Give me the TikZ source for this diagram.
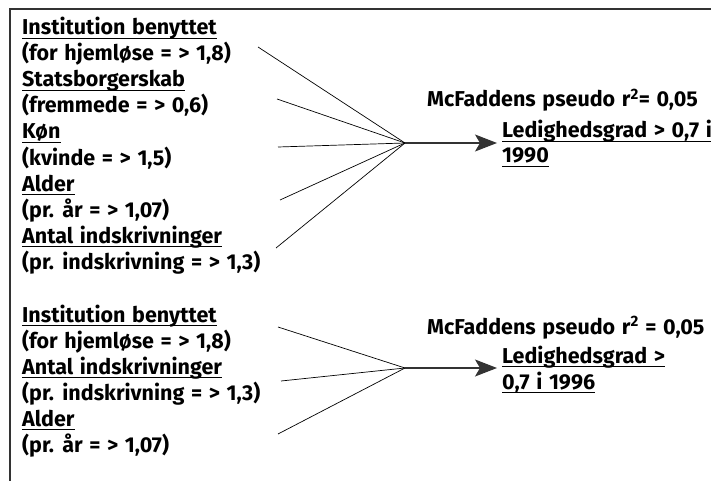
\documentclass[tikz,border=0pt]{standalone}
\usepackage{fontspec}
\setmainfont{Fira Sans}[WordSpace={1.3}]
\usetikzlibrary{arrows.meta}
\begin{document}
\begin{tikzpicture}[x=1pt,y=-1pt,
  lab/.style={anchor=base west, inner sep=0pt, font=\fontsize{21.5}{25}\selectfont\bfseries},
  ulline/.style={line width=1.3pt},
  fan/.style={line width=0.7pt},
  res/.style={line width=1.1pt, draw=black!80, -{Stealth[length=22pt,width=17pt,inset=5pt]}},
  frame/.style={line width=1.2pt, draw=black!80}]
\useasboundingbox (0,0) rectangle (711,481);
\clip (0,0) rectangle (711,481);
\draw[frame] (10,481) -- (10,9) -- (711,9);
% block 1
\node[lab] (a1) at (22,35) {Institution benyttet};
\node[lab] (a2) at (22,61) {(for hjemløse = > 1,8)};
\node[lab] (a3) at (22,87) {Statsborgerskab};
\node[lab] (a4) at (22,113) {(fremmede = > 0,6)};
\node[lab] (a5) at (22,139) {Køn};
\node[lab] (a6) at (22,165) {(kvinde = > 1,5)};
\node[lab] (a7) at (22,191) {Alder};
\node[lab] (a8) at (22,217) {(pr. år = > 1,07)};
\node[lab] (a9) at (22,243) {Antal indskrivninger};
\node[lab] (a10) at (22,269) {(pr. indskrivning = > 1,3)};
\node[lab] (m1) at (427,107) {McFaddens pseudo r\textsuperscript{2}= 0,05};
\node[lab] (r1) at (502,138) {Ledighedsgrad > 0,7 i};
\node[lab] (r2) at (502,163) {1990};
\coordinate (c1) at (405,143);
\coordinate (e1) at (497,143);
\coordinate (s1) at (258,47);
\coordinate (s2) at (277,99);
\coordinate (s3) at (278,147);
\coordinate (s4) at (280,200);
\coordinate (s5) at (276,248);
\foreach \s in {s1,s2,s3,s4,s5} \draw[fan] (\s) -- (c1);
\draw[res] (c1) -- (e1);
% block 2
\node[lab] (b1) at (22,322) {Institution benyttet};
\node[lab] (b2) at (22,348) {(for hjemløse = > 1,8)};
\node[lab] (b3) at (22,374) {Antal indskrivninger};
\node[lab] (b4) at (22,400) {(pr. indskrivning = > 1,3)};
\node[lab] (b5) at (22,426) {Alder};
\node[lab] (b6) at (22,452) {(pr. år = > 1,07)};
\node[lab] (m2) at (427,334) {McFaddens pseudo r\textsuperscript{2} = 0,05};
\node[lab] (q1) at (502,363) {Ledighedsgrad >};
\node[lab] (q2) at (502,389) {0,7 i 1996};
\coordinate (c2) at (405,368);
\coordinate (e2) at (497,368);
\coordinate (t1) at (278,327);
\coordinate (t2) at (281,381);
\coordinate (t3) at (278,434);
\foreach \s in {t1,t2,t3} \draw[fan] (\s) -- (c2);
\draw[res] (c2) -- (e2);
% underlines
\foreach \n in {a1,a3,a5,a7,a9,r1,r2,b1,b3,b5,q1,q2}
  \draw[ulline] ([yshift=-3.5pt]\n.base west) -- ([yshift=-3.5pt]\n.base east);
\end{tikzpicture}
\end{document}
